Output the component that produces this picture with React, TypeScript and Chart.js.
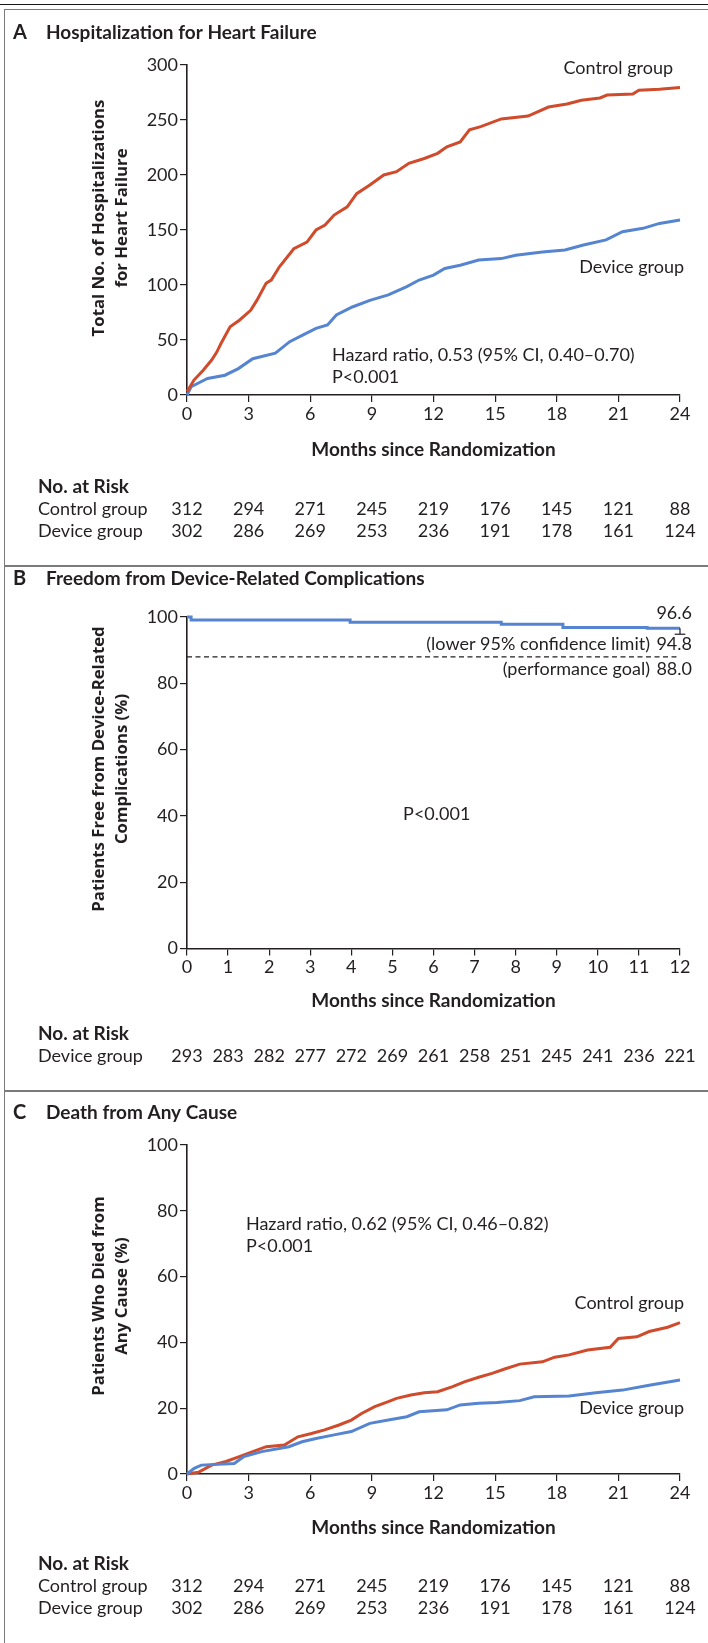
import React, { useEffect, useRef } from "react";
import { Chart, registerables } from "chart.js";

Chart.register(...registerables);

const W = 708;
const INK = "#231f20";
const RED = "#cf4b2c";
const BLUE = "#5584d0";
const FRAME = "#7a7a7a";
const REG = 'Lato, "Open Sans", sans-serif';
const YT = '"Open Sans", Lato, sans-serif';

// ---------- Panel A: hospitalization for heart failure ----------
const ticksA = [0, 3, 6, 9, 12, 15, 18, 21, 24];
const ctrlMonthsA = [0, 0.34, 0.8, 1.2, 1.45, 1.66, 2.1, 2.55, 3.1, 3.4, 3.85, 4.1, 4.5, 5.2, 5.84, 6.28, 6.72, 7.16, 7.8, 8.26, 8.9, 9.58, 10.2, 10.8, 11.55, 12.2, 12.65, 13.3, 13.75, 14.3, 15.3, 16.6, 17.6, 18.5, 19.2, 20.1, 20.45, 21.7, 22, 23, 24];
const ctrlHospA = [3, 13.6, 22.7, 31.8, 39, 47, 62, 68, 77, 86, 101.5, 104.5, 116.6, 133, 139, 150, 154.5, 163.6, 171, 183, 191, 200, 203, 210.6, 215, 219.7, 225.7, 230, 241, 244, 251, 253.6, 261.8, 264.5, 268, 270, 272.7, 273.6, 277, 278, 279.5];
const devMonthsA = [0, 0.2, 1.0, 1.85, 2.5, 3.2, 4.3, 5.0, 5.63, 6.28, 6.84, 7.27, 8.05, 8.9, 9.8, 10.7, 11.3, 12.0, 12.55, 13.3, 14.2, 15.3, 16.0, 17.3, 18.4, 19.3, 20.4, 21.2, 22.2, 23.0, 24];
const devHospA = [0, 7.5, 15, 18, 24, 33, 38, 48.5, 54.5, 60.6, 63.6, 72.7, 80, 86, 91, 98.5, 104.5, 109, 115, 118, 122.7, 124, 127, 130, 131.8, 136.4, 141, 148.5, 151.5, 156, 159];
const riskCtrlA = [312, 294, 271, 245, 219, 176, 145, 121, 88];
const riskDevA = [302, 286, 269, 253, 236, 191, 178, 161, 124];

// ---------- Panel B: freedom from device-related complications ----------
const ticksB = [0, 1, 2, 3, 4, 5, 6, 7, 8, 9, 10, 11, 12];
const devMonthsB = [0, 0.1, 3.97, 7.65, 9.15, 11.2, 12];
const devFreeB = [100, 99.1, 98.4, 97.8, 96.8, 96.6, 96.6];
const finalEstB = 96.6;
const lowerLimitB = 94.8;
const goalB = 88.0;
const riskDevB = [293, 283, 282, 277, 272, 269, 261, 258, 251, 245, 241, 236, 221];

// ---------- Panel C: death from any cause ----------
const ticksC = [0, 3, 6, 9, 12, 15, 18, 21, 24];
const ctrlMonthsC = [0, 0.55, 1.2, 1.9, 2.55, 3.2, 3.86, 4.74, 5.4, 6.06, 6.7, 7.4, 8.0, 8.5, 9.14, 9.8, 10.2, 10.9, 11.55, 12.2, 12.9, 13.5, 14.2, 14.85, 15.5, 16.2, 17.3, 17.9, 18.6, 19.5, 20.6, 21.0, 21.9, 22.5, 23.4, 24];
const ctrlDeathC = [0, 0.5, 2.7, 3.8, 5.3, 6.8, 8.3, 8.8, 11.3, 12.3, 13.4, 14.9, 16.4, 18.4, 20.5, 22, 23, 24, 24.7, 25, 26.5, 28, 29.4, 30.6, 32, 33.4, 34.1, 35.5, 36.2, 37.7, 38.5, 41.2, 41.7, 43.3, 44.6, 46];
const devMonthsC = [0, 0.35, 0.7, 2.3, 2.77, 3.64, 4.96, 5.6, 6.28, 7.16, 8.0, 8.9, 9.8, 10.7, 11.3, 12.65, 13.3, 14.2, 15.1, 16.2, 16.9, 18.6, 19.9, 21.2, 22.5, 24];
const devDeathC = [0, 1.7, 2.7, 3.2, 5.3, 6.8, 8.3, 9.8, 10.8, 11.9, 12.9, 15.4, 16.4, 17.4, 18.9, 19.5, 21, 21.5, 21.7, 22.3, 23.5, 23.7, 24.7, 25.5, 27, 28.6];
const riskCtrlC = [312, 294, 271, 245, 219, 176, 145, 121, 88];
const riskDevC = [302, 286, 269, 253, 236, 191, 178, 161, 124];

const pts = (xs: number[], ys: number[]) => xs.map((x, i) => ({ x, y: ys[i] }));

function txt(ctx: CanvasRenderingContext2D, s: string, x: number, y: number, font: string, align: CanvasTextAlign = "left") {
  ctx.save();
  ctx.font = font;
  ctx.fillStyle = INK;
  ctx.textAlign = align;
  ctx.textBaseline = "middle";
  ctx.fillText(s, x, y);
  ctx.restore();
}

const F_REG = `18px ${REG}`;
const F_BOLD = `bold 19px ${REG}`;

function panelTitle(ctx: CanvasRenderingContext2D, letter: string, title: string, y: number) {
  txt(ctx, letter, 13, y, `bold 20px ${REG}`);
  txt(ctx, title, 46, y, F_BOLD);
}

function yTitle(ctx: CanvasRenderingContext2D, lines: string[], cy: number) {
  const xs = [99, 122];
  lines.forEach((l, i) => {
    ctx.save();
    ctx.translate(xs[i], cy);
    ctx.rotate(-Math.PI / 2);
    ctx.font = `bold 16.8px ${YT}`;
    ctx.fillStyle = INK;
    ctx.textAlign = "center";
    ctx.textBaseline = "middle";
    ctx.fillText(l, 0, 0);
    ctx.restore();
  });
}

function xTitle(ctx: CanvasRenderingContext2D, chart: any, y: number) {
  const a = chart.chartArea;
  txt(ctx, "Months since Randomization", (a.left + a.right) / 2, y, F_BOLD, "center");
}

function riskTable(ctx: CanvasRenderingContext2D, xs: any, months: number[], rows: [string, number[]][], y0: number) {
  txt(ctx, "No. at Risk", 38, y0, F_BOLD);
  rows.forEach(([name, vals], i) => {
    const y = y0 + 22 * (i + 1);
    txt(ctx, name, 38, y, F_REG);
    vals.forEach((v, j) => txt(ctx, String(v), xs.getPixelForValue(months[j]), y, F_REG, "center"));
  });
}

type Spec = {
  height: number;
  top: number;
  bottom: number;
  xMax: number;
  xStep: number;
  yMax: number;
  yStep: number;
  datasets: any[];
  draw: (chart: any, ctx: CanvasRenderingContext2D) => void;
};

const XH = 40;
const YW = 40;

function makeChart(canvas: HTMLCanvasElement, p: Spec) {
  return new Chart(canvas, {
    type: "line",
    data: { datasets: p.datasets },
    options: {
      responsive: false,
      animation: false,
      devicePixelRatio: 1,
      events: [],
      layout: { padding: { left: 187 - YW, right: W - 680, top: p.top, bottom: p.height - p.bottom - XH } },
      plugins: { legend: { display: false }, tooltip: { enabled: false } },
      elements: { point: { radius: 0 }, line: { tension: 0 } },
      scales: {
        x: {
          type: "linear",
          min: 0,
          max: p.xMax,
          afterFit: (s: any) => { s.height = XH; },
          ticks: { stepSize: p.xStep, autoSkip: false, maxRotation: 0, color: INK, font: { family: REG, size: 18 }, padding: 1 },
          grid: { drawOnChartArea: false, drawTicks: true, tickLength: 7, color: INK, lineWidth: 1.2 },
          border: { display: true, color: INK, width: 1.6 },
        },
        y: {
          type: "linear",
          min: 0,
          max: p.yMax,
          afterFit: (s: any) => { s.width = YW; },
          ticks: { stepSize: p.yStep, color: INK, font: { family: REG, size: 18 }, padding: 2 },
          grid: { drawOnChartArea: false, drawTicks: true, tickLength: 7, color: INK, lineWidth: 1.2 },
          border: { display: true, color: INK, width: 1.6 },
        },
      },
    } as any,
    plugins: [{ id: "extras", afterDraw: (chart: any) => p.draw(chart, chart.ctx) }],
  });
}

const lineDs = (data: any[], color: string, extra: any = {}) => ({
  data,
  borderColor: color,
  borderWidth: 3,
  pointRadius: 0,
  fill: false,
  clip: false,
  ...extra,
});

const TOP_B = 566;
const TOP_C = 1091;
const H_A = TOP_B;
const H_B = TOP_C - TOP_B;
const H_C = 1643 - TOP_C;

export default function App() {
  const refA = useRef<HTMLCanvasElement>(null);
  const refB = useRef<HTMLCanvasElement>(null);
  const refC = useRef<HTMLCanvasElement>(null);

  useEffect(() => {
    const charts: Chart[] = [];
    charts.push(
      makeChart(refA.current!, {
        height: H_A, top: 65, bottom: 395, xMax: 24, xStep: 3, yMax: 300, yStep: 50,
        datasets: [
          lineDs(pts(ctrlMonthsA, ctrlHospA), RED),
          lineDs(pts(devMonthsA, devHospA), BLUE),
        ],
        draw: (chart, ctx) => {
          const xs = chart.scales.x, ys = chart.scales.y;
          panelTitle(ctx, "A", "Hospitalization for Heart Failure", 33);
          yTitle(ctx, ["Total No. of Hospitalizations", "for Heart Failure"], 218);
          xTitle(ctx, chart, 450);
          txt(ctx, "Control group", xs.getPixelForValue(23.66), ys.getPixelForValue(297), F_REG, "right");
          txt(ctx, "Device group", xs.getPixelForValue(24.2), ys.getPixelForValue(116), F_REG, "right");
          txt(ctx, "Hazard ratio, 0.53 (95% CI, 0.40\u20130.70)", xs.getPixelForValue(7.06), ys.getPixelForValue(36.4), F_REG);
          txt(ctx, "P<0.001", xs.getPixelForValue(7.06), ys.getPixelForValue(16.4), F_REG);
          riskTable(ctx, xs, ticksA, [["Control group", riskCtrlA], ["Device group", riskDevA]], 487);
        },
      })
    );
    charts.push(
      makeChart(refB.current!, {
        height: H_B, top: 617 - TOP_B, bottom: 948.5 - TOP_B, xMax: 12, xStep: 1, yMax: 100, yStep: 20,
        datasets: [
          lineDs([{ x: 0, y: goalB }, { x: 12, y: goalB }], INK, { borderWidth: 1.2, borderDash: [5, 3.5] }),
          lineDs([{ x: 12, y: finalEstB }, { x: 12, y: lowerLimitB }], INK, { borderWidth: 1.2 }),
          lineDs([{ x: 11.87, y: lowerLimitB }, { x: 12.13, y: lowerLimitB }], INK, { borderWidth: 1.2 }),
          lineDs(pts(devMonthsB, devFreeB), BLUE, { stepped: "before" }),
        ],
        draw: (chart, ctx) => {
          const xs = chart.scales.x, ys = chart.scales.y;
          panelTitle(ctx, "B", "Freedom from Device-Related Complications", 579 - TOP_B);
          yTitle(ctx, ["Patients Free from Device-Related", "Complications (%)"], 769 - TOP_B);
          xTitle(ctx, chart, 1001 - TOP_B);
          const xr = 692;
          const xp = 650;
          txt(ctx, finalEstB.toFixed(1), xr, ys.getPixelForValue(101.2), F_REG, "right");
          txt(ctx, lowerLimitB.toFixed(1), xr, ys.getPixelForValue(91.8), F_REG, "right");
          txt(ctx, "(lower 95% confidence limit)", xp, ys.getPixelForValue(91.8), F_REG, "right");
          txt(ctx, goalB.toFixed(1), xr, ys.getPixelForValue(84.2), F_REG, "right");
          txt(ctx, "(performance goal)", xp, ys.getPixelForValue(84.2), F_REG, "right");
          txt(ctx, "P<0.001", xs.getPixelForValue(5.26), ys.getPixelForValue(40.5), F_REG);
          riskTable(ctx, xs, ticksB, [["Device group", riskDevB]], 1034 - TOP_B);
        },
      })
    );
    charts.push(
      makeChart(refC.current!, {
        height: H_C, top: 1145 - TOP_C, bottom: 1474 - TOP_C, xMax: 24, xStep: 3, yMax: 100, yStep: 20,
        datasets: [
          lineDs(pts(devMonthsC, devDeathC), BLUE),
          lineDs(pts(ctrlMonthsC, ctrlDeathC), RED),
        ],
        draw: (chart, ctx) => {
          const xs = chart.scales.x, ys = chart.scales.y;
          panelTitle(ctx, "C", "Death from Any Cause", 1113 - TOP_C);
          yTitle(ctx, ["Patients Who Died from", "Any Cause (%)"], 1296 - TOP_C);
          xTitle(ctx, chart, 1528 - TOP_C);
          txt(ctx, "Hazard ratio, 0.62 (95% CI, 0.46\u20130.82)", xs.getPixelForValue(2.87), ys.getPixelForValue(76), F_REG);
          txt(ctx, "P<0.001", xs.getPixelForValue(2.87), ys.getPixelForValue(69.3), F_REG);
          txt(ctx, "Control group", xs.getPixelForValue(24.2), ys.getPixelForValue(52), F_REG, "right");
          txt(ctx, "Device group", xs.getPixelForValue(24.2), ys.getPixelForValue(20), F_REG, "right");
          riskTable(ctx, xs, ticksC, [["Control group", riskCtrlC], ["Device group", riskDevC]], 1564 - TOP_C);
        },
      })
    );
    return () => charts.forEach((c) => c.destroy());
  }, []);

  const abs = (extra: React.CSSProperties): React.CSSProperties => ({ position: "absolute", ...extra });

  return (
    <div style={abs({ left: 0, top: 0, width: W, height: 1643, background: "#fff", overflow: "hidden" })}>
      <canvas ref={refA} width={W} height={H_A} style={abs({ left: 0, top: 0, width: W, height: H_A })} />
      <canvas ref={refB} width={W} height={H_B} style={abs({ left: 0, top: TOP_B, width: W, height: H_B })} />
      <canvas ref={refC} width={W} height={H_C} style={abs({ left: 0, top: TOP_C, width: W, height: H_C })} />
      <div style={abs({ left: 0, top: 4, width: W, height: 1.3, background: "#1a1a1a" })} />
      <div style={abs({ left: 4, top: 9, width: W, height: 1640, borderLeft: `1.5px solid ${FRAME}`, borderTop: `1.5px solid ${FRAME}` })} />
      <div style={abs({ left: 4, top: TOP_B - 1, width: W, height: 1.6, background: FRAME })} />
      <div style={abs({ left: 4, top: TOP_C - 1, width: W, height: 1.6, background: FRAME })} />
    </div>
  );
}
